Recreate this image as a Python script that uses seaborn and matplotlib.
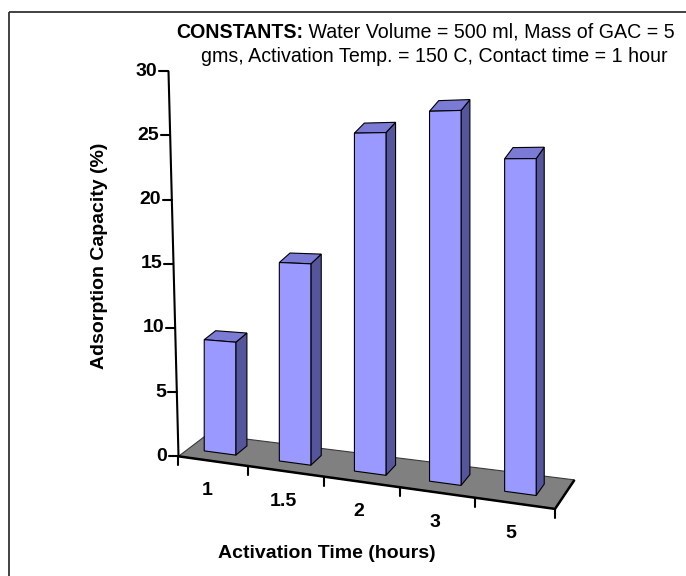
import numpy as np
import matplotlib
matplotlib.use("Agg")
import matplotlib.pyplot as plt
import matplotlib.transforms as mtransforms
from matplotlib.patches import Polygon, Rectangle
import seaborn as sns

# data
times = ["1", "1.5", "2", "3", "5"]
capacity = [9.0, 15.5, 25.5, 27.0, 23.5]
yticks = [0, 5, 10, 15, 20, 25, 30]

title1_bold = "CONSTANTS:"
title1_rest = " Water Volume = 500 ml, Mass of GAC = 5"
title2 = "gms, Activation Temp. = 150 C, Contact time = 1 hour"

front_col = "#9999ff"
top_col = "#7b7bd6"
side_col = "#55559c"
floor_col = "#808080"

# fake 3D view (Excel style): category x, value v, depth z -> pixel coords
def project(x, v, z):
    x = np.asarray(x, float)
    v = np.asarray(v, float)
    z = np.asarray(z, float)
    ddx = 8.3 - 0.55 * (x + 0.42)
    ddy = -(6.3 + 0.4 * (x + 0.42))
    px = 220 + 75.1 * x + ddx * z
    py = 453 + 10.1 * x + ddy * z - 12.45 * (1 + 0.036 * x) * v
    return px, py


class Oblique(mtransforms.Transform):
    input_dims = 2
    output_dims = 2
    is_separable = False
    has_inverse = False

    def __init__(self, z=0.0):
        super().__init__()
        self.z = z

    def transform_non_affine(self, values):
        values = np.asarray(values, float)
        px, py = project(values[:, 0], values[:, 1], self.z)
        return np.column_stack([px, py])


bar_depth = 1.4
floor_x = (-0.42, 4.55)
floor_z = (-1.2, 2.3)

sns.set_theme(style="white")
plt.rcParams['font.family'] = ['Liberation Sans', 'DejaVu Sans']

fig = plt.figure(figsize=(6.86, 5.76), dpi=100)
ax = fig.add_axes([0, 0, 1, 1])
sns.barplot(x=times, y=capacity, ax=ax, width=0.42, color=front_col, saturation=1,
            edgecolor="black", linewidth=0.8, errorbar=None, zorder=4)
bars = list(ax.patches)

# floor
fx = [floor_x[0], floor_x[1], floor_x[1], floor_x[0]]
fz = [floor_z[0], floor_z[0], floor_z[1], floor_z[1]]
px, py = project(fx, [0] * 4, fz)
ax.add_patch(Polygon(np.column_stack([px, py]), closed=True, facecolor=floor_col,
                     edgecolor="#3a3a3a", linewidth=0.8, zorder=1))
# front + right edge of floor drawn heavier
ax.plot(px[[0, 1, 2]], py[[0, 1, 2]], color="black", linewidth=1.8, zorder=2,
        solid_capstyle="butt")

# bars: move seaborn's rectangles into the oblique view, add side and top faces
for p in bars:
    x0 = p.get_x()
    w = p.get_width()
    h = p.get_height()
    p.set_transform(Oblique(0.0) + ax.transData)
    sx, sy = project([x0 + w] * 4, [0, 0, h, h], [0, bar_depth, bar_depth, 0])
    ax.add_patch(Polygon(np.column_stack([sx, sy]), closed=True, facecolor=side_col,
                         edgecolor="black", linewidth=0.8, zorder=3))
    tx, ty = project([x0, x0 + w, x0 + w, x0], [h] * 4, [0, 0, bar_depth, bar_depth])
    ax.add_patch(Polygon(np.column_stack([tx, ty]), closed=True, facecolor=top_col,
                         edgecolor="black", linewidth=0.8, zorder=3))

# category ticks and labels along the front edge
edges = [floor_x[0]] + [i + 0.5 for i in range(len(times) - 1)] + [floor_x[1]]
for e in edges:
    ex, ey = project(e, 0, floor_z[0])
    ax.plot([ex, ex], [ey, ey + 9], color="black", linewidth=1.5, zorder=2)
for i, lab in enumerate(times):
    lx, ly = project(i, 0, floor_z[0])
    ax.text(lx - 3, ly + 30, lab, ha="center", va="center", fontsize=14,
            fontweight="bold", color="black")

# value axis (front-left corner, leans slightly)
ax0x, ax0y = project(floor_x[0], 0, floor_z[0])
def axis_pt(v):
    return ax0x - 10.0 * v / 30, ax0y - 385.0 * v / 30

topx, topy = axis_pt(yticks[-1])
ax.plot([ax0x, topx], [ax0y, topy], color="black", linewidth=1.5, zorder=2)
for t in yticks:
    tx, ty = axis_pt(t)
    ax.plot([tx - 9, tx], [ty, ty], color="black", linewidth=1.5, zorder=2)
    ax.text(tx - 11, ty, str(t), ha="right", va="center", fontsize=14,
            fontweight="bold", color="black")

ax.text(100, 256, "Adsorption Capacity (%)", rotation=90, ha="center", va="center",
        fontsize=14, fontweight="bold", color="black")
ax.text(327, 553, "Activation Time (hours)", ha="center", va="center",
        fontsize=14, fontweight="bold", color="black")

t1 = ax.text(176, 32, title1_bold, ha="left", va="center", fontsize=14.1,
             fontweight="bold", color="black")
ax.annotate(title1_rest, xy=(1, 0.5), xycoords=t1, ha="left", va="center",
            fontsize=14.1, color="black")
ax.text(434, 57, title2, ha="center", va="center", fontsize=14.1, color="black")

# chart area border
ax.add_patch(Rectangle((9, 12), 720, 620, fill=False, edgecolor="#333333",
                       linewidth=1.3, zorder=5))

ax.set_xlim(0, 686)
ax.set_ylim(576, 0)
ax.axis("off")
fig.savefig("out.png", dpi=100)
